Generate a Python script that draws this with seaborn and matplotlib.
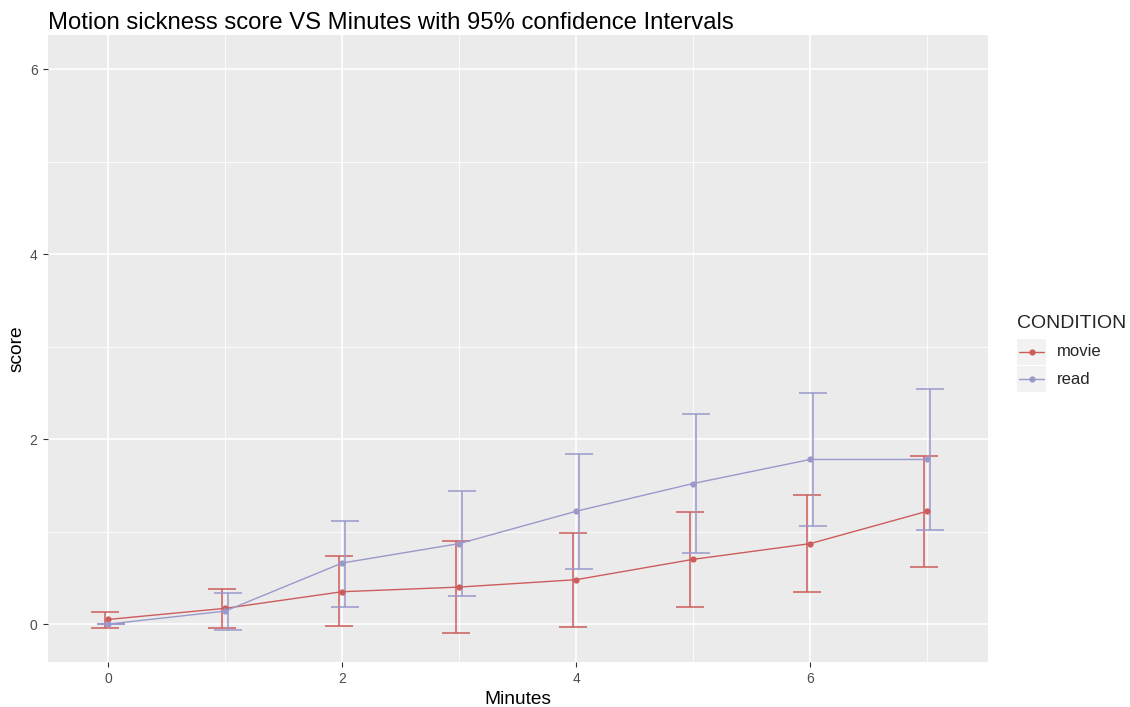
import numpy as np
import pandas as pd
import matplotlib
matplotlib.use("Agg")
import matplotlib.pyplot as plt
import seaborn as sns
from matplotlib.lines import Line2D
from matplotlib.patches import Rectangle
from matplotlib.ticker import MultipleLocator

# Mean motion sickness score per minute, with 95% confidence limits
minutes = [0, 1, 2, 3, 4, 5, 6, 7]
movie_mean = [0.05, 0.17, 0.35, 0.40, 0.48, 0.70, 0.87, 1.22]
movie_low = [-0.04, -0.04, -0.02, -0.10, -0.03, 0.18, 0.35, 0.62]
movie_high = [0.13, 0.38, 0.74, 0.90, 0.98, 1.21, 1.40, 1.82]
read_mean = [0.00, 0.14, 0.66, 0.87, 1.22, 1.52, 1.78, 1.78]
read_low = [0.00, -0.06, 0.19, 0.30, 0.60, 0.77, 1.06, 1.02]
read_high = [0.00, 0.34, 1.12, 1.44, 1.84, 2.27, 2.50, 2.54]
conditions = ["movie", "read"]

colors = {"movie": "#CD5C5C", "read": "#9999CC"}

df = pd.DataFrame({
    "Minutes": minutes * 2,
    "score": movie_mean + read_mean,
    "low": movie_low + read_low,
    "high": movie_high + read_high,
    "CONDITION": ["movie"] * len(minutes) + ["read"] * len(minutes),
})

sns.set_theme(style="darkgrid")
plt.rcParams["font.family"] = ["Liberation Sans", "DejaVu Sans"]

fig = plt.figure(figsize=(11.30, 7.07), dpi=100)
ax = fig.add_axes([48 / 1130, 1 - 662 / 707, 940 / 1130, 627 / 707])
ax.set_facecolor("#EBEBEB")

# error bars, slightly dodged per condition
dodge = {"movie": -0.023, "read": 0.023}
for cond in conditions:
    sub = df[df["CONDITION"] == cond]
    xs = sub["Minutes"].to_numpy() + dodge[cond]
    ax.errorbar(xs, sub["score"],
                yerr=[sub["score"] - sub["low"], sub["high"] - sub["score"]],
                fmt="none", ecolor=colors[cond], elinewidth=1.1,
                capsize=10.4, capthick=1.1, zorder=3)

sns.lineplot(data=df, x="Minutes", y="score", hue="CONDITION",
             palette=colors, hue_order=conditions, marker="o",
             markersize=4.5, markeredgewidth=0, linewidth=1.0,
             ax=ax, legend=False, zorder=4)

ax.set_xlim(-0.513, 7.52)
ax.set_ylim(-0.41, 6.37)
ax.set_xticks([0, 2, 4, 6])
ax.set_yticks([0, 2, 4, 6])
ax.xaxis.set_minor_locator(MultipleLocator(1))
ax.yaxis.set_minor_locator(MultipleLocator(1))
ax.grid(which="major", color="white", linewidth=1.2)
ax.grid(which="minor", color="white", linewidth=0.6)
ax.set_axisbelow(True)
for s in ax.spines.values():
    s.set_visible(False)
ax.tick_params(which="major", length=3.5, width=0.8, color="#333333",
               labelcolor="#4D4D4D", labelsize=10, pad=4, direction="out",
               bottom=True, left=True)
ax.tick_params(which="minor", length=0)

ax.set_xlabel("Minutes", fontsize=13.8, color="black", labelpad=3)
ax.set_ylabel("score", fontsize=13.8, color="black", labelpad=3)
fig.text(48 / 1130, 1 - 23 / 707, "Motion sickness score VS Minutes with 95% confidence Intervals",
         fontsize=17.2, ha="left", va="center", color="black")

# legend
fig.text(1017 / 1130, 1 - 323 / 707, "CONDITION", fontsize=14, ha="left", va="center")
key_tops = [339, 366]
for cond, top in zip(conditions, key_tops):
    fig.patches.append(Rectangle((1017 / 1130, 1 - (top + 26) / 707), 29 / 1130, 26 / 707,
                                 transform=fig.transFigure, facecolor="#F2F2F2",
                                 edgecolor="none", figure=fig))
    yc = 1 - (top + 13) / 707
    fig.add_artist(Line2D([1019 / 1130, 1044 / 1130], [yc, yc], transform=fig.transFigure,
                          color=colors[cond], linewidth=1.0))
    fig.add_artist(Line2D([1031.5 / 1130], [yc], transform=fig.transFigure,
                          color=colors[cond], marker="o", markersize=4.5,
                          markeredgewidth=0, linestyle="none"))
    fig.text(1057 / 1130, yc, cond, fontsize=12, ha="left", va="center")

fig.savefig("out.png", dpi=100, facecolor="white")
